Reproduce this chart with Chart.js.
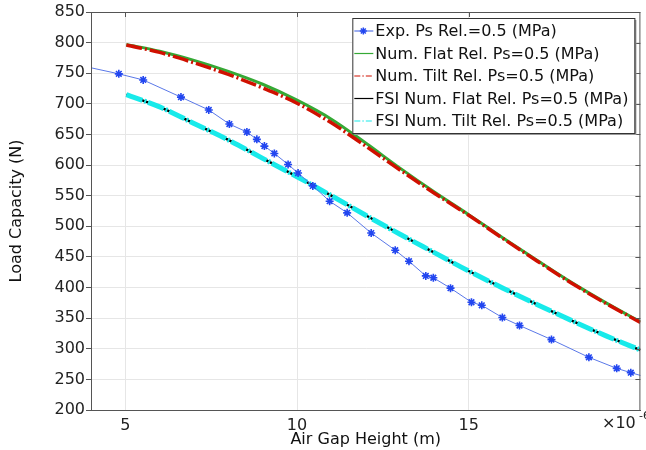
<!DOCTYPE html>
<html>
<head>
<meta charset="utf-8">
<script src="https://cdn.jsdelivr.net/npm/chart.js@4/dist/chart.umd.min.js"></script>
<style>
  html, body { margin: 0; padding: 0; background: #fff; }
  #wrap { width: 646px; height: 450px; }
</style>
</head>
<body>
<div id="wrap"><canvas id="chart" width="646" height="450"></canvas></div>
<script>
// air gap height (x 1e-6 m)
const expX = [3.5, 4.81, 5.52, 6.62, 7.43, 8.03, 8.54, 8.83, 9.05, 9.34, 9.74, 10.03, 10.46, 10.95, 11.46, 12.16, 12.86, 13.26, 13.75, 13.97, 14.47, 15.08, 15.38, 15.98, 16.48, 17.41, 18.5, 19.31, 19.72, 20.4];
const expLoad = [765, 749, 739, 711, 690, 667, 654, 642, 631, 619, 601, 587, 566, 541, 522, 489, 461, 443, 419, 416, 399, 376, 371, 351, 338, 315, 286, 268, 261, 250];

const numX = [5.03, 6, 7, 8, 9, 10, 11, 12, 13, 14, 15, 16, 17, 18, 19, 20];
const numFlat = [797, 786, 771, 753, 732, 706, 675, 636, 595, 556, 519, 481, 444, 408, 375, 344];
const numTilt = [796, 784, 767, 748, 726, 701, 669, 631, 592, 554, 518, 480, 443, 407, 374, 343];
const fsiFlat = [715, 695, 668, 641, 611, 581, 550, 518, 487, 457, 427, 399, 372, 346, 321, 298];
const fsiTilt = [715, 695, 668, 641, 611, 581, 550, 518, 487, 457, 427, 399, 372, 346, 321, 298];

const xTicks = [5, 10, 15];
const labels = [
  "Exp. Ps Rel.=0.5 (MPa)",
  "Num. Flat Rel. Ps=0.5 (MPa)",
  "Num. Tilt Rel. Ps=0.5 (MPa)",
  "FSI Num. Flat Rel. Ps=0.5 (MPa)",
  "FSI Num. Tilt Rel. Ps=0.5 (MPa)"
];

function pts(xs, ys) {
  return xs.map((v, i) => ({ x: v, y: ys[i] }));
}

Chart.defaults.font.family = "'DejaVu Sans', sans-serif";
Chart.defaults.font.size = 16;
Chart.defaults.color = '#222';

// legend box, frame and x exponent
const extras = {
  id: 'extras',
  afterDraw(chart) {
    const ctx = chart.ctx;
    const a = chart.chartArea;
    ctx.save();
    // frame with inward ticks on top / right
    ctx.strokeStyle = '#555';
    ctx.lineWidth = 1;
    ctx.strokeRect(a.left + 0.5, a.top + 0.5, a.right - a.left - 1, a.bottom - a.top);
    const ys = chart.scales.y;
    ys.ticks.forEach(t => {
      const py = Math.round(ys.getPixelForValue(t.value)) + 0.5;
      ctx.beginPath(); ctx.moveTo(a.right - 5, py); ctx.lineTo(a.right, py); ctx.stroke();
    });
    const xs = chart.scales.x;
    xTicks.forEach(v => {
      const px = Math.round(xs.getPixelForValue(v)) + 0.5;
      ctx.beginPath(); ctx.moveTo(px, a.top); ctx.lineTo(px, a.top + 5); ctx.stroke();
    });

    // x10^-6
    ctx.fillStyle = '#222';
    ctx.textBaseline = 'middle';
    ctx.font = "16px 'DejaVu Sans'";
    ctx.fillText('\u00d710', 602, 424);
    ctx.font = "11px 'DejaVu Sans'";
    ctx.fillText('-6', 639, 416);

    // legend
    ctx.font = "16px 'DejaVu Sans'";
    let w = 0;
    labels.forEach(l => { w = Math.max(w, ctx.measureText(l).width); });
    const boxW = w + 29, boxH = 115;
    const bx = a.right - boxW - 6, by = a.top + 6;
    ctx.fillStyle = '#999';
    ctx.fillRect(bx + 2, by + 2, boxW, boxH);
    ctx.fillStyle = '#fff';
    ctx.fillRect(bx, by, boxW, boxH);
    ctx.strokeStyle = '#333';
    ctx.strokeRect(bx + 0.5, by + 0.5, boxW, boxH);
    const ds = chart.data.datasets;
    labels.forEach((l, i) => {
      const ry = by + 13 + i * 22.5;
      const d = ds[i];
      ctx.save();
      ctx.strokeStyle = d.borderColor;
      ctx.lineWidth = 1.2;
      ctx.setLineDash(d.borderDash ? [6, 2, 1.5, 2] : []);
      ctx.beginPath(); ctx.moveTo(bx + 2, ry); ctx.lineTo(bx + 21, ry); ctx.stroke();
      ctx.restore();
      if (i === 0) {
        ctx.save();
        ctx.strokeStyle = d.pointBorderColor;
        ctx.lineWidth = 1.5;
        const c = bx + 11, r = 3.5;
        for (let k = 0; k < 4; k++) {
          const ang = k * Math.PI / 4;
          ctx.beginPath();
          ctx.moveTo(c - r * Math.cos(ang), ry - r * Math.sin(ang));
          ctx.lineTo(c + r * Math.cos(ang), ry + r * Math.sin(ang));
          ctx.stroke();
        }
        ctx.restore();
      }
      ctx.fillStyle = '#111';
      ctx.fillText(l, bx + 23, ry + 1);
    });
    ctx.restore();
  }
};

const ctx = document.getElementById('chart').getContext('2d');
const mychart = new Chart(ctx, {
  type: 'line',
  data: {
    datasets: [
      {
        label: labels[0],
        data: pts(expX, expLoad),
        borderColor: '#5a78e8',
        borderWidth: 1,
        pointStyle: 'star',
        pointRadius: 4,
        pointBorderWidth: 1.6,
        pointBorderColor: '#2246f0',
        pointBackgroundColor: '#2246f0',
        tension: 0,
        order: 0
      },
      {
        label: labels[1],
        data: pts(numX, numFlat),
        borderColor: '#35a935',
        borderWidth: 3,
        pointRadius: 0,
        cubicInterpolationMode: 'monotone',
        order: 2
      },
      {
        label: labels[2],
        data: pts(numX, numTilt),
        borderColor: '#d01000',
        borderWidth: 3.5,
        borderDash: [16, 3, 2, 3],
        pointRadius: 0,
        cubicInterpolationMode: 'monotone',
        order: 1
      },
      {
        label: labels[3],
        data: pts(numX, fsiFlat),
        borderColor: '#000000',
        borderWidth: 2.5,
        pointRadius: 0,
        cubicInterpolationMode: 'monotone',
        order: 4
      },
      {
        label: labels[4],
        data: pts(numX, fsiTilt),
        borderColor: '#18eaea',
        borderWidth: 5,
        borderDash: [17, 2, 2, 2],
        pointRadius: 0,
        cubicInterpolationMode: 'monotone',
        order: 3
      }
    ]
  },
  options: {
    responsive: false,
    animation: false,
    layout: { padding: { top: 12, right: 0, left: 0, bottom: 0 } },
    plugins: {
      legend: { display: false },
      tooltip: { enabled: false }
    },
    scales: {
      x: {
        type: 'linear',
        min: 4,
        max: 20,
        afterBuildTicks: (axis) => { axis.ticks = xTicks.map(v => ({ value: v })); },
        afterFit: (scale) => { scale.height = 40; },
        grid: { color: '#e6e6e6', drawTicks: false },
        border: { color: '#555' },
        ticks: { padding: 6, color: '#222', maxRotation: 0 },
        title: { display: true, text: 'Air Gap Height (m)', color: '#111', padding: { top: 0, bottom: 1 } }
      },
      y: {
        min: 200,
        max: 850,
        afterFit: (scale) => { scale.width = 91; },
        grid: { color: '#e6e6e6', tickLength: 5, tickColor: '#555' },
        border: { color: '#555' },
        ticks: { stepSize: 50, padding: 1, color: '#222' },
        title: { display: true, text: 'Load Capacity (N)', color: '#111', padding: { top: 7, bottom: 0 } }
      }
    }
  },
  plugins: [extras]
});
</script>
</body>
</html>
